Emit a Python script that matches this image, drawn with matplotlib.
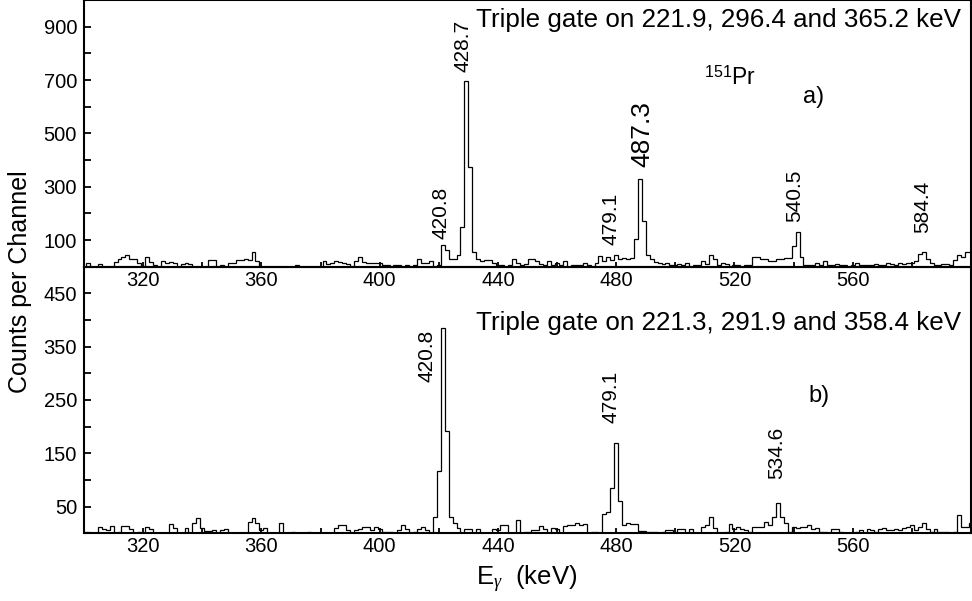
import numpy as np
import matplotlib
matplotlib.use('Agg')
import matplotlib.pyplot as plt
from matplotlib.ticker import MultipleLocator

plt.rcParams['font.family'] = 'Liberation Sans'
plt.rcParams['mathtext.fontset'] = 'custom'
plt.rcParams['mathtext.rm'] = 'Liberation Sans'
plt.rcParams['mathtext.it'] = 'Liberation Serif:italic'

# calibrazione: centro del primo canale e larghezza del canale (keV)
e0 = 300.0
ch_w = 4.0 / 3.0

# spettro a) gate 221.9, 296.4, 365.2 keV (conteggi per canale)
counts_a = [
    0, 15, 0, 0, 10, 0, 0, 0, 19, 27,
    37, 44, 30, 30, 12, 0, 35, 18, 8, 0,
    20, 15, 18, 12, 0, 10, 12, 10, 0, 0,
    0, 0, 25, 25, 0, 8, 0, 12, 15, 25,
    25, 30, 25, 55, 20, 0, 0, 0, 0, 0,
    0, 0, 0, 0, 6, 0, 0, 0, 0, 0,
    0, 22, 10, 15, 20, 18, 12, 10, 0, 20,
    35, 18, 15, 12, 15, 12, 8, 5, 0, 5,
    8, 0, 5, 0, 5, 30, 15, 12, 20, 0,
    5, 80, 62, 27, 30, 45, 148, 697, 373, 56,
    27, 22, 25, 25, 12, 5, 8, 0, 5, 27,
    15, 5, 10, 27, 27, 22, 10, 5, 20, 8,
    15, 5, 22, 0, 5, 8, 5, 12, 8, 0,
    15, 40, 22, 35, 25, 45, 29, 32, 29, 31,
    103, 328, 172, 44, 27, 17, 15, 10, 12, 8,
    5, 10, 5, 12, 0, 8, 5, 20, 10, 44,
    29, 5, 12, 10, 0, 5, 8, 0, 5, 8,
    37, 37, 29, 29, 22, 22, 29, 29, 32, 32,
    78, 129, 37, 8, 8, 5, 12, 5, 22, 8,
    5, 10, 5, 8, 0, 5, 12, 8, 5, 8,
    5, 10, 8, 5, 12, 10, 8, 12, 10, 15,
    12, 22, 47, 54, 29, 15, 8, 8, 10, 10,
    5, 25, 44, 37, 54, 54,
]

# spettro b) gate 221.3, 291.9, 358.4 keV
counts_b = [
    3, 3, 0, 0, 12, 8, 6, 14, 0, 3,
    14, 14, 8, 0, 3, 0, 12, 8, 0, 0,
    0, 0, 17, 9, 0, 0, 9, 0, 19, 28,
    9, 5, 5, 6, 0, 6, 8, 0, 0, 0,
    0, 0, 22, 28, 19, 6, 9, 0, 0, 0,
    19, 0, 0, 3, 0, 0, 0, 3, 0, 0,
    0, 0, 0, 0, 9, 16, 16, 6, 0, 6,
    8, 12, 12, 6, 12, 8, 3, 3, 3, 0,
    6, 16, 8, 0, 3, 8, 12, 6, 0, 31,
    116, 384, 191, 31, 19, 9, 0, 8, 8, 0,
    8, 0, 0, 0, 8, 6, 16, 16, 0, 0,
    25, 0, 3, 3, 6, 6, 14, 8, 0, 9,
    8, 0, 14, 16, 16, 19, 16, 17, 0, 3,
    3, 0, 36, 40, 84, 169, 60, 16, 19, 17,
    17, 5, 5, 3, 3, 3, 0, 3, 6, 6,
    0, 8, 8, 0, 8, 0, 0, 12, 16, 31,
    9, 0, 0, 3, 17, 8, 12, 8, 6, 3,
    11, 11, 11, 22, 16, 31, 57, 31, 19, 3,
    12, 9, 12, 12, 16, 8, 9, 3, 3, 0,
    8, 8, 3, 0, 0, 0, 3, 6, 0, 8,
    6, 3, 8, 10, 6, 6, 8, 6, 10, 12,
    16, 6, 12, 19, 8, 3, 8, 3, 3, 3,
    0, 3, 34, 12, 12, 19,
]

xticks_lab = [320, 360, 400, 440, 480, 520, 560]
xticks_min = [340, 380, 420, 460, 500, 540, 580]

labels_a = ['428.7', '420.8', '479.1', '487.3', '540.5', '584.4']
labels_a_x = [428.1, 420.6, 478.4, 488.8, 540.3, 583.8]
labels_a_y = [731, 103, 81, 375, 169, 125]
labels_a_fs = [15, 15, 15, 19, 15, 15]

labels_b = ['420.8', '479.1', '534.6']
labels_b_x = [416.0, 478.2, 534.4]
labels_b_y = [284, 207, 101]

edges = e0 - ch_w / 2 + ch_w * np.arange(len(counts_a) + 1)

fig = plt.figure(figsize=(9.72, 6.01), dpi=100)
ax1 = fig.add_axes([84/972, 1 - 266.7/601, 887/972, 266.7/601])
ax2 = fig.add_axes([84/972, 1 - 533.3/601, 887/972, 266.7/601])

for ax, c, ymax, ymaj in [(ax1, counts_a, 1000, 200), (ax2, counts_b, 500, 100)]:
    ax.stairs(c, edges, color='black', lw=0.9, baseline=0)
    ax.set_xlim(300, 600)
    ax.set_ylim(0, ymax)
    ax.set_xticks(xticks_lab)
    ax.set_xticks(xticks_min, minor=True)
    ax.yaxis.set_major_locator(MultipleLocator(ymaj, offset=ymaj/2))
    ax.yaxis.set_minor_locator(MultipleLocator(ymaj/2))
    ax.tick_params(which='both', direction='in', width=1.3, labelsize=14.5)
    ax.tick_params(axis='y', which='both', length=5, pad=5)
    ax.tick_params(axis='x', which='both', length=3.5, pad=3)
    for s in ax.spines.values():
        s.set_linewidth(1.5)
    ax.patch.set_alpha(0)
ax1.set_zorder(2)

ax1.text(432.5, 900, 'Triple gate on 221.9, 296.4 and 365.2 keV', fontsize=18.7, va='baseline')
ax1.text(509.6, 681, r'$^{151}$Pr', fontsize=16.5, va='baseline')
ax1.text(543.3, 613, 'a)', fontsize=17, va='baseline')
for t, x, y, fs in zip(labels_a, labels_a_x, labels_a_y, labels_a_fs):
    ax1.text(x, y, t, rotation=90, fontsize=fs, ha='center', va='bottom')

ax2.text(432.5, 381, 'Triple gate on 221.3, 291.9 and 358.4 keV', fontsize=18.7, va='baseline')
ax2.text(545, 247, 'b)', fontsize=17, va='baseline')
for t, x, y in zip(labels_b, labels_b_x, labels_b_y):
    ax2.text(x, y, t, rotation=90, fontsize=15, ha='center', va='bottom')

fig.text(0.0206, 0.532, 'Counts per Channel', rotation=90, fontsize=18, ha='center', va='center')
fig.text(0.542, 1 - 585/601, r'E$_{\gamma}$  (keV)', fontsize=18.5, ha='center', va='baseline')

fig.savefig('out.png', dpi=100)
